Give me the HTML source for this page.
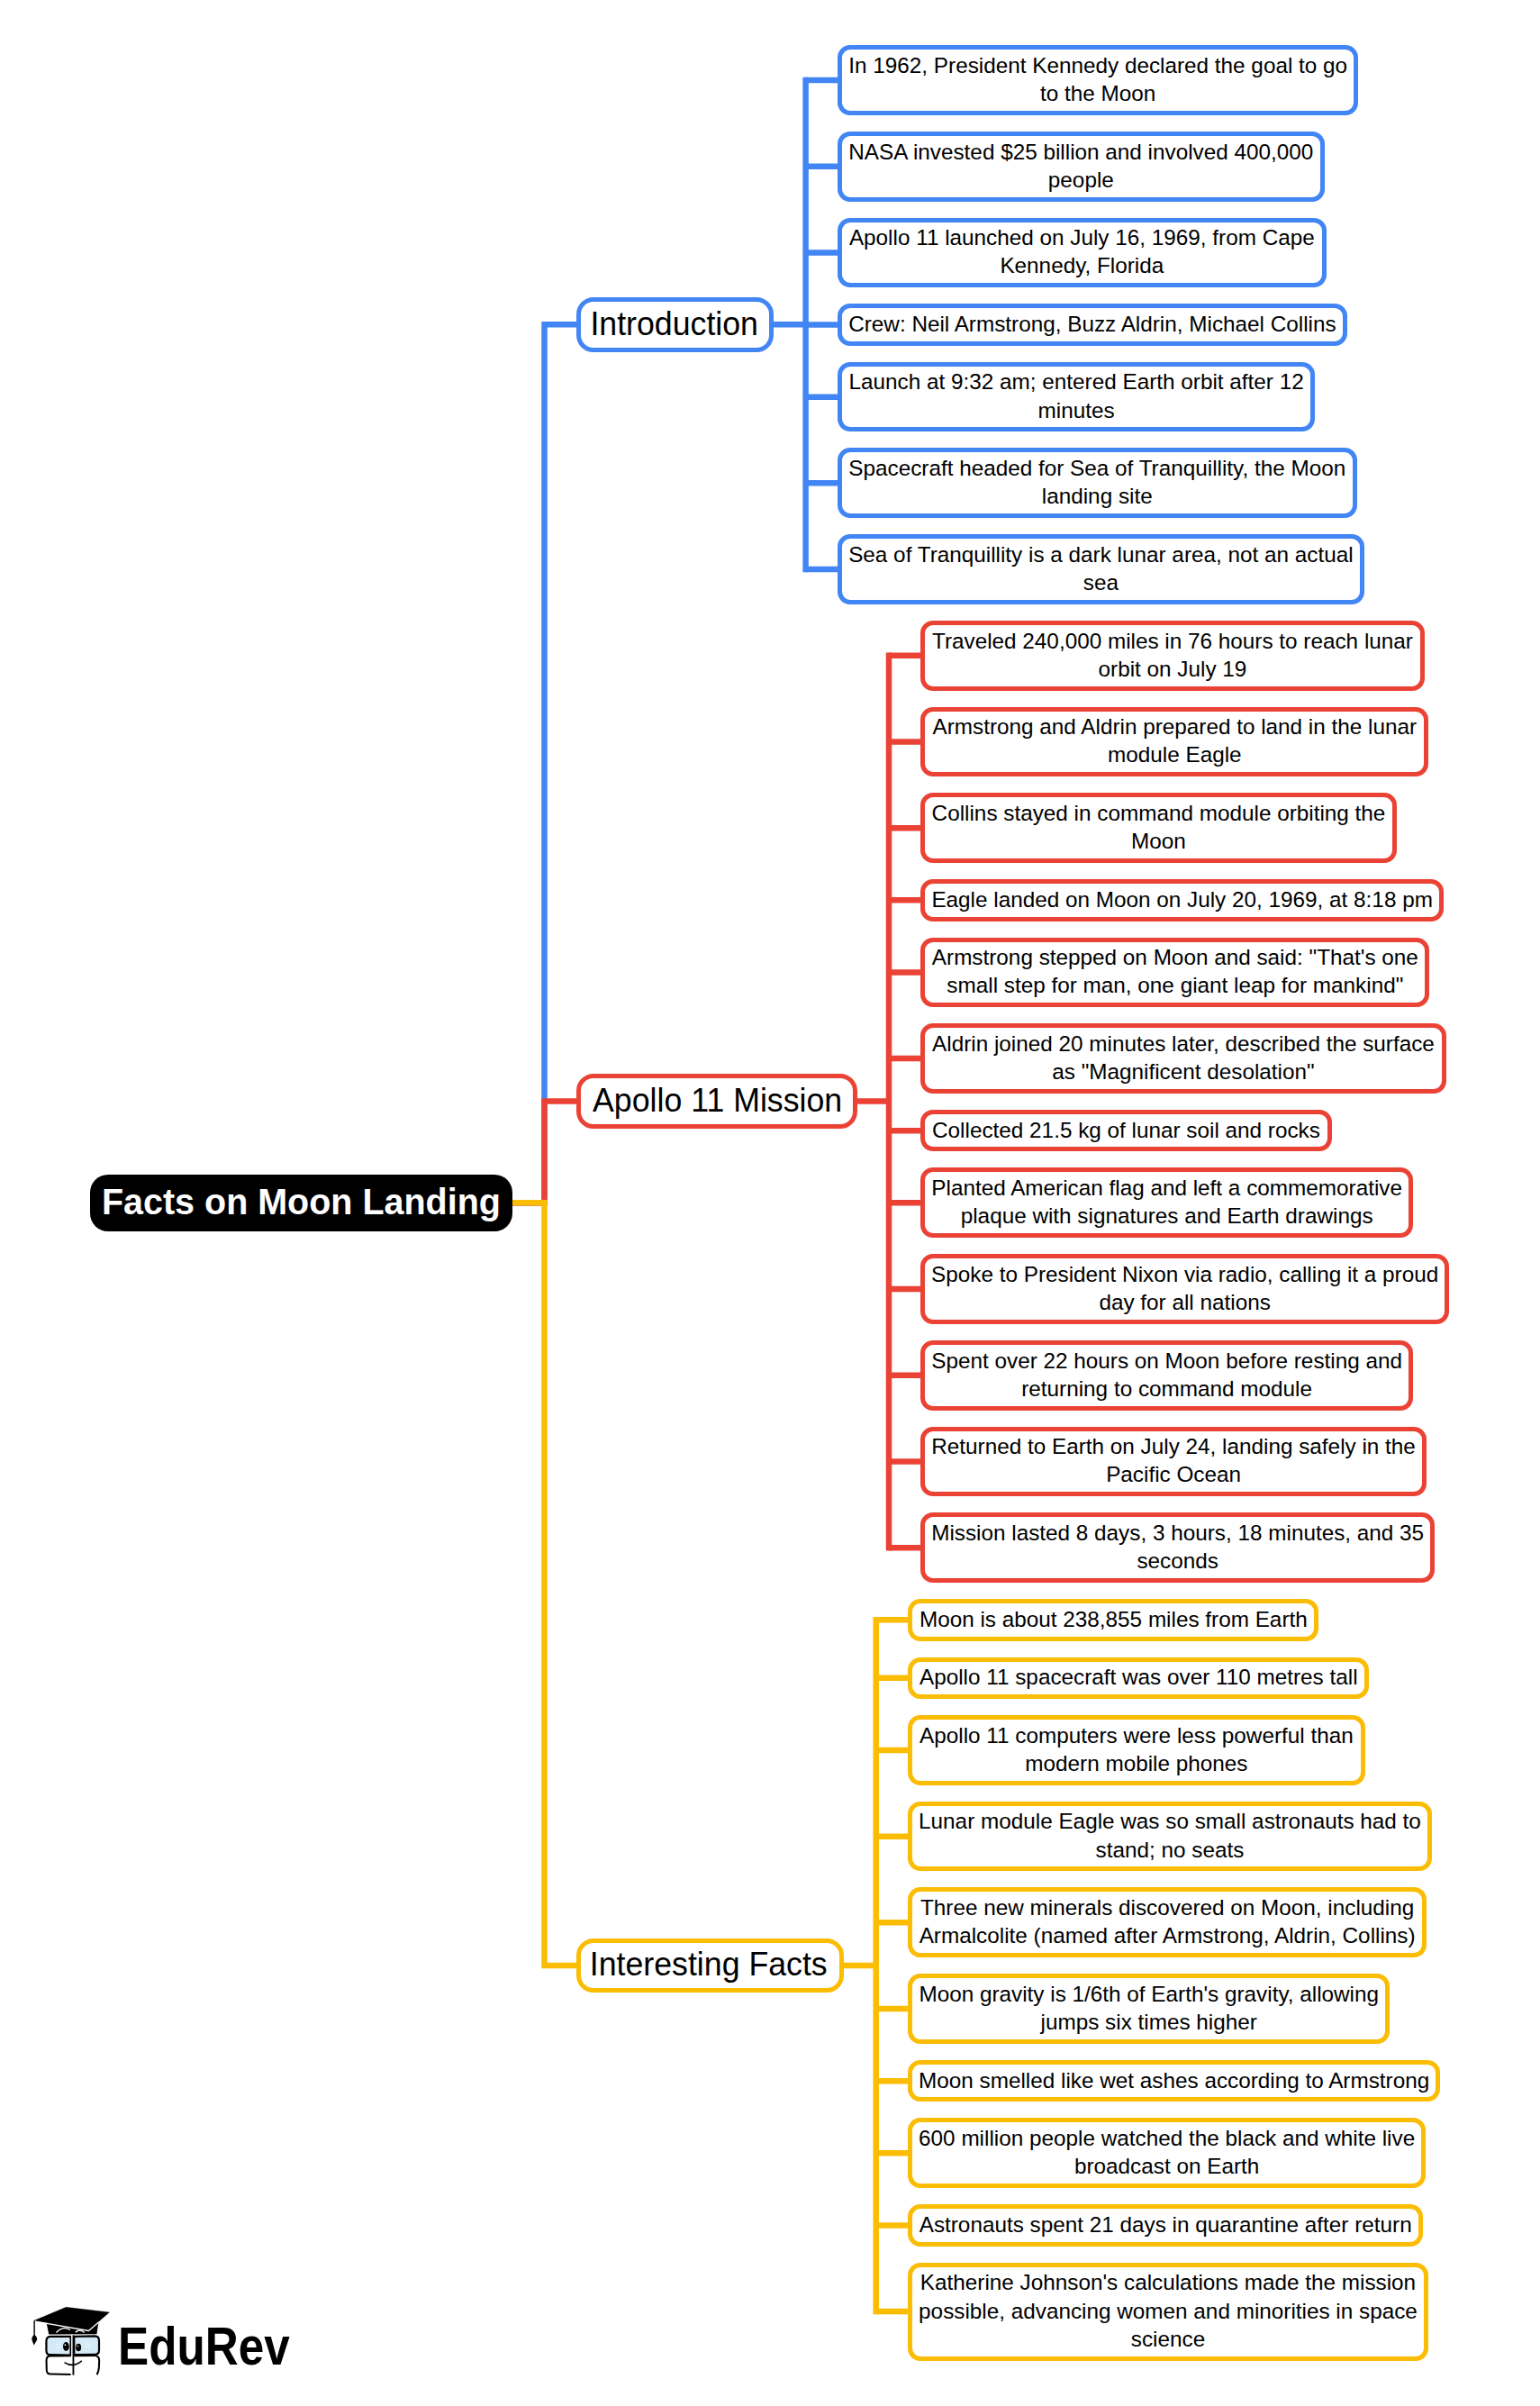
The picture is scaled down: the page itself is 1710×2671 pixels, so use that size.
<!DOCTYPE html>
<html><head><meta charset="utf-8"><style>
html,body{margin:0;padding:0;background:#fff;}
body{width:1710px;height:2671px;position:relative;overflow:hidden;font-family:"Liberation Sans",sans-serif;color:#000;}
svg.lines{position:absolute;left:0;top:0;}
svg.lines path{fill:none;stroke-width:6.5px;stroke-linejoin:miter;}
.b{position:absolute;box-sizing:border-box;border:5px solid;border-radius:14px;background:#fff;display:flex;align-items:center;justify-content:center;text-align:center;white-space:nowrap;font-size:24.3px;line-height:31.15px;}
.m{position:absolute;box-sizing:border-box;border:5px solid;border-radius:19px;background:#fff;display:flex;align-items:center;justify-content:center;white-space:nowrap;font-size:37px;line-height:40px;}
.m span{display:inline-block;transform:scaleX(0.965);position:relative;}
.b>div{position:relative;left:0px;top:-1px;}
.root{position:absolute;box-sizing:border-box;border-radius:20px;background:#000;color:#fff;display:flex;align-items:center;justify-content:center;white-space:nowrap;font-weight:bold;font-size:40px;line-height:44px;}
.root span{display:inline-block;transform:scaleX(0.987);position:relative;top:-1px;}
</style></head><body>

<svg class="lines" width="1710" height="2671" viewBox="0 0 1710 2671"><path d="M569 1335.25 H604.5 V360.25 H643" stroke="#4285F4" /><path d="M569 1335.25 H604.5 V1222.45 H643" stroke="#EA4335" /><path d="M569 1335.25 H604.5 V2182.00 H643" stroke="#FBBC04" /><path d="M856.0 360.25 H894.6" stroke="#4285F4" /><path d="M894.6 88.99 V632.04" stroke="#4285F4" stroke-linecap="square" /><path d="M894.6 88.99 H933.0" stroke="#4285F4" /><path d="M894.6 184.69 H933.0" stroke="#4285F4" /><path d="M894.6 280.39 H933.0" stroke="#4285F4" /><path d="M894.6 360.51 H933.0" stroke="#4285F4" /><path d="M894.6 440.64 H933.0" stroke="#4285F4" /><path d="M894.6 536.34 H933.0" stroke="#4285F4" /><path d="M894.6 632.04 H933.0" stroke="#4285F4" /><path d="M949.0 1222.45 H987.0" stroke="#EA4335" /><path d="M987.0 727.74 V1718.14" stroke="#EA4335" stroke-linecap="square" /><path d="M987.0 727.74 H1025.3" stroke="#EA4335" /><path d="M987.0 823.44 H1025.3" stroke="#EA4335" /><path d="M987.0 919.14 H1025.3" stroke="#EA4335" /><path d="M987.0 999.26 H1025.3" stroke="#EA4335" /><path d="M987.0 1079.39 H1025.3" stroke="#EA4335" /><path d="M987.0 1175.09 H1025.3" stroke="#EA4335" /><path d="M987.0 1255.22 H1025.3" stroke="#EA4335" /><path d="M987.0 1335.34 H1025.3" stroke="#EA4335" /><path d="M987.0 1431.04 H1025.3" stroke="#EA4335" /><path d="M987.0 1526.74 H1025.3" stroke="#EA4335" /><path d="M987.0 1622.44 H1025.3" stroke="#EA4335" /><path d="M987.0 1718.14 H1025.3" stroke="#EA4335" /><path d="M934.2 2182.00 H972.7" stroke="#FBBC04" /><path d="M972.7 1798.27 V2566.12" stroke="#FBBC04" stroke-linecap="square" /><path d="M972.7 1798.27 H1011.2" stroke="#FBBC04" /><path d="M972.7 1862.82 H1011.2" stroke="#FBBC04" /><path d="M972.7 1942.94 H1011.2" stroke="#FBBC04" /><path d="M972.7 2038.64 H1011.2" stroke="#FBBC04" /><path d="M972.7 2134.34 H1011.2" stroke="#FBBC04" /><path d="M972.7 2230.04 H1011.2" stroke="#FBBC04" /><path d="M972.7 2310.16 H1011.2" stroke="#FBBC04" /><path d="M972.7 2390.29 H1011.2" stroke="#FBBC04" /><path d="M972.7 2470.41 H1011.2" stroke="#FBBC04" /><path d="M972.7 2566.12 H1011.2" stroke="#FBBC04" /></svg>
<div class="root" style="left:100px;top:1304px;width:469px;height:62.5px"><span>Facts on Moon Landing</span></div>
<div class="m" style="left:640px;top:330.0px;width:219.0px;height:60.5px;border-color:#4285F4"><span style="left:-0.5px;top:0px">Introduction</span></div>
<div class="m" style="left:640px;top:1192.2px;width:312.0px;height:60.5px;border-color:#EA4335"><span style="left:1px;top:0px">Apollo 11 Mission</span></div>
<div class="m" style="left:640px;top:2152.0px;width:297.2px;height:60.0px;border-color:#FBBC04"><span style="left:-2px;top:-1px">Interesting Facts</span></div>
<div class="b" style="left:930.0px;top:50.14px;width:578.4px;height:77.70px;border-color:#4285F4"><div>In 1962, President Kennedy declared the goal to go<br>to the Moon</div></div>
<div class="b" style="left:930.0px;top:145.84px;width:540.7px;height:77.70px;border-color:#4285F4"><div>NASA invested $25 billion and involved 400,000<br>people</div></div>
<div class="b" style="left:930.0px;top:241.54px;width:542.7px;height:77.70px;border-color:#4285F4"><div>Apollo 11 launched on July 16, 1969, from Cape<br>Kennedy, Florida</div></div>
<div class="b" style="left:930.0px;top:337.24px;width:565.9px;height:46.55px;border-color:#4285F4"><div>Crew: Neil Armstrong, Buzz Aldrin, Michael Collins</div></div>
<div class="b" style="left:930.0px;top:401.79px;width:530.3px;height:77.70px;border-color:#4285F4"><div>Launch at 9:32 am; entered Earth orbit after 12<br>minutes</div></div>
<div class="b" style="left:930.0px;top:497.49px;width:576.5px;height:77.70px;border-color:#4285F4"><div>Spacecraft headed for Sea of Tranquillity, the Moon<br>landing site</div></div>
<div class="b" style="left:930.0px;top:593.19px;width:584.8px;height:77.70px;border-color:#4285F4"><div>Sea of Tranquillity is a dark lunar area, not an actual<br>sea</div></div>
<div class="b" style="left:1022.3px;top:688.89px;width:559.3px;height:77.70px;border-color:#EA4335"><div>Traveled 240,000 miles in 76 hours to reach lunar<br>orbit on July 19</div></div>
<div class="b" style="left:1022.3px;top:784.59px;width:564.0px;height:77.70px;border-color:#EA4335"><div>Armstrong and Aldrin prepared to land in the lunar<br>module Eagle</div></div>
<div class="b" style="left:1022.3px;top:880.29px;width:528.4px;height:77.70px;border-color:#EA4335"><div>Collins stayed in command module orbiting the<br>Moon</div></div>
<div class="b" style="left:1022.3px;top:975.99px;width:580.7px;height:46.55px;border-color:#EA4335"><div>Eagle landed on Moon on July 20, 1969, at 8:18 pm</div></div>
<div class="b" style="left:1022.3px;top:1040.54px;width:565.1px;height:77.70px;border-color:#EA4335"><div>Armstrong stepped on Moon and said: &quot;That's one<br>small step for man, one giant leap for mankind&quot;</div></div>
<div class="b" style="left:1022.3px;top:1136.24px;width:583.3px;height:77.70px;border-color:#EA4335"><div>Aldrin joined 20 minutes later, described the surface<br>as &quot;Magnificent desolation&quot;</div></div>
<div class="b" style="left:1022.3px;top:1231.94px;width:456.4px;height:46.55px;border-color:#EA4335"><div>Collected 21.5 kg of lunar soil and rocks</div></div>
<div class="b" style="left:1022.3px;top:1296.49px;width:546.7px;height:77.70px;border-color:#EA4335"><div>Planted American flag and left a commemorative<br>plaque with signatures and Earth drawings</div></div>
<div class="b" style="left:1022.3px;top:1392.19px;width:586.7px;height:77.70px;border-color:#EA4335"><div>Spoke to President Nixon via radio, calling it a proud<br>day for all nations</div></div>
<div class="b" style="left:1022.3px;top:1487.89px;width:546.7px;height:77.70px;border-color:#EA4335"><div>Spent over 22 hours on Moon before resting and<br>returning to command module</div></div>
<div class="b" style="left:1022.3px;top:1583.59px;width:561.6px;height:77.70px;border-color:#EA4335"><div>Returned to Earth on July 24, landing safely in the<br>Pacific Ocean</div></div>
<div class="b" style="left:1022.3px;top:1679.29px;width:570.7px;height:77.70px;border-color:#EA4335"><div>Mission lasted 8 days, 3 hours, 18 minutes, and 35<br>seconds</div></div>
<div class="b" style="left:1008.2px;top:1774.99px;width:456.3px;height:46.55px;border-color:#FBBC04"><div>Moon is about 238,855 miles from Earth</div></div>
<div class="b" style="left:1008.2px;top:1839.54px;width:512.2px;height:46.55px;border-color:#FBBC04"><div>Apollo 11 spacecraft was over 110 metres tall</div></div>
<div class="b" style="left:1008.2px;top:1904.09px;width:507.4px;height:77.70px;border-color:#FBBC04"><div>Apollo 11 computers were less powerful than<br>modern mobile phones</div></div>
<div class="b" style="left:1008.2px;top:1999.79px;width:581.6px;height:77.70px;border-color:#FBBC04"><div>Lunar module Eagle was so small astronauts had to<br>stand; no seats</div></div>
<div class="b" style="left:1008.2px;top:2095.49px;width:575.9px;height:77.70px;border-color:#FBBC04"><div>Three new minerals discovered on Moon, including<br>Armalcolite (named after Armstrong, Aldrin, Collins)</div></div>
<div class="b" style="left:1008.2px;top:2191.19px;width:535.1px;height:77.70px;border-color:#FBBC04"><div>Moon gravity is 1/6th of Earth's gravity, allowing<br>jumps six times higher</div></div>
<div class="b" style="left:1008.2px;top:2286.89px;width:590.9px;height:46.55px;border-color:#FBBC04"><div>Moon smelled like wet ashes according to Armstrong</div></div>
<div class="b" style="left:1008.2px;top:2351.44px;width:574.9px;height:77.70px;border-color:#FBBC04"><div>600 million people watched the black and white live<br>broadcast on Earth</div></div>
<div class="b" style="left:1008.2px;top:2447.14px;width:572.0px;height:46.55px;border-color:#FBBC04"><div>Astronauts spent 21 days in quarantine after return</div></div>
<div class="b" style="left:1008.2px;top:2511.69px;width:577.6px;height:108.85px;border-color:#FBBC04"><div>Katherine Johnson's calculations made the mission<br>possible, advancing women and minorities in space<br>science</div></div>
<svg style="position:absolute;left:30px;top:2555px" width="100" height="90" viewBox="0 0 1540 1386">
<path d="M335 370 L1222 355 L1192 558 L372 562 Z" fill="#000"/>
<path d="M500 530 Q615 410 740 485" fill="none" stroke="#fff" stroke-width="22"/>
<path d="M828 525 Q905 460 980 530" fill="none" stroke="#fff" stroke-width="22"/>
<path d="M118 328 L668 98 L1408 185 L1058 490 Z" fill="#000" stroke="#000" stroke-width="6"/>
<path d="M140 342 L1055 500 L1228 352" fill="none" stroke="#fff" stroke-width="20"/>
<path d="M125 330 L125 590" stroke="#000" stroke-width="22" fill="none"/>
<path d="M125 565 Q78 600 82 655 L118 748 L172 655 Q175 600 125 565 Z" fill="#000"/>
<path d="M748 598 L400 600 Q330 602 330 680 L330 830 Q330 912 400 912 L748 918 Z" fill="#D5EAF7" stroke="#000" stroke-width="34" stroke-linejoin="round"/>
<path d="M805 598 L1160 590 Q1232 590 1232 668 L1232 830 Q1232 905 1160 905 L805 912 Z" fill="#D5EAF7" stroke="#000" stroke-width="34" stroke-linejoin="round"/>
<path d="M745 928 L395 930 Q332 932 332 1010 L335 1170 Q338 1240 400 1240 L748 1248" fill="none" stroke="#000" stroke-width="32"/>
<path d="M808 928 L1160 925 Q1232 925 1234 1010 L1230 1130 Q1224 1200 1195 1250" fill="none" stroke="#000" stroke-width="32"/>
<path d="M772 565 L772 1258" stroke="#fff" stroke-width="30"/>
<path d="M792 575 L792 1258" stroke="#000" stroke-width="28"/>
<ellipse cx="668" cy="770" rx="52" ry="76" fill="#000"/>
<ellipse cx="880" cy="785" rx="46" ry="66" fill="#000"/>
<circle cx="652" cy="742" r="13" fill="#fff"/>
<circle cx="868" cy="762" r="11" fill="#fff"/>
<path d="M640 1040 Q790 1140 935 1015" fill="none" stroke="#000" stroke-width="24"/>
<rect x="495" y="728" width="65" height="60" fill="none" stroke="#fff" stroke-width="8" opacity="0.8"/>
<rect x="1005" y="722" width="70" height="60" fill="none" stroke="#fff" stroke-width="8" opacity="0.8"/>
</svg>
<div style="position:absolute;left:130.8px;top:2565px;width:200px;height:80px;white-space:nowrap;font-family:'Liberation Sans',sans-serif;font-weight:bold;font-size:58.6px;line-height:80px;color:#000;"><span style="display:inline-block;transform-origin:0 50%;transform:scaleX(0.874);">EduRev</span></div>

</body></html>
